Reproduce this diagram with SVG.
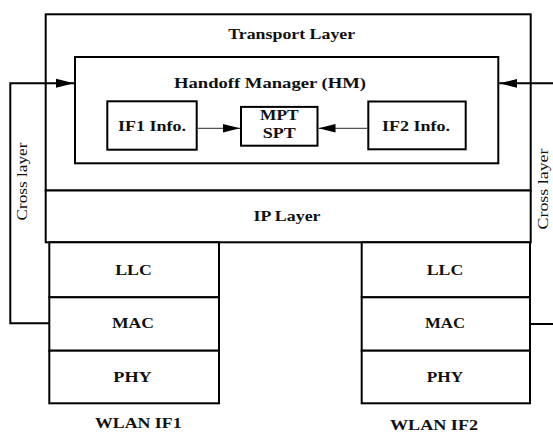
<svg xmlns="http://www.w3.org/2000/svg" width="553" height="432" viewBox="0 0 553 432">
<style>
.box{fill:#fff;stroke:#000;stroke-width:2}
.t{font-family:"Liberation Serif","Times New Roman",serif;font-weight:bold;font-size:15px;fill:#111;text-anchor:middle}
.r{font-family:"Liberation Serif","Times New Roman",serif;font-size:15px;fill:#111;text-anchor:middle}
.thick{fill:none;stroke:#000;stroke-width:2}
.thin{fill:none;stroke:#555;stroke-width:1.2}
</style>
<defs>
<marker id="ah" markerUnits="userSpaceOnUse" markerWidth="20" markerHeight="12" refX="18" refY="5" orient="auto">
<path d="M0,0.5 L18,5 L0,9.5 Z" fill="#000"/>
</marker>
<marker id="ahs" markerUnits="userSpaceOnUse" markerWidth="20" markerHeight="12" refX="17" refY="5" orient="auto">
<path d="M0,0.8 L17,5 L0,9.2 Z" fill="#000"/>
</marker>
</defs>
<rect width="553" height="432" fill="#fff"/>
<g id="transport">
<rect class="box" x="45.7" y="14.3" width="485" height="176.2"/>
<text class="t" x="291.7" y="38.5" textLength="127" lengthAdjust="spacingAndGlyphs">Transport Layer</text>
</g>
<g id="ip">
<rect class="box" x="45.7" y="190.5" width="485" height="51.8"/>
<text class="t" x="287" y="221" textLength="67" lengthAdjust="spacingAndGlyphs">IP Layer</text>
</g>
<g id="hm">
<rect class="box" x="75" y="57" width="423.3" height="106.3"/>
<text class="t" x="270" y="88.3" textLength="192" lengthAdjust="spacingAndGlyphs">Handoff Manager (HM)</text>
</g>
<g id="if1info">
<rect class="box" x="107.3" y="101.3" width="89.4" height="48.4"/>
<text class="t" x="152" y="130.5" textLength="68" lengthAdjust="spacingAndGlyphs">IF1 Info.</text>
</g>
<g id="mpt">
<rect class="box" x="241" y="106.9" width="76.5" height="38.8"/>
<text class="t" x="279.3" y="120" textLength="38.5" lengthAdjust="spacingAndGlyphs">MPT</text>
<text class="t" x="279.3" y="138.3" textLength="33" lengthAdjust="spacingAndGlyphs">SPT</text>
</g>
<g id="if2info">
<rect class="box" x="368.3" y="101.5" width="97.4" height="47.8"/>
<text class="t" x="416" y="130.5" textLength="68" lengthAdjust="spacingAndGlyphs">IF2 Info.</text>
</g>
<g id="llc1">
<rect class="box" x="49.3" y="242.3" width="169.7" height="55"/>
<text class="t" x="133.5" y="275" textLength="36.5" lengthAdjust="spacingAndGlyphs">LLC</text>
</g>
<g id="mac1">
<rect class="box" x="49.3" y="297.3" width="169.7" height="53.4"/>
<text class="t" x="133" y="328.3" textLength="42" lengthAdjust="spacingAndGlyphs">MAC</text>
</g>
<g id="phy1">
<rect class="box" x="49.3" y="350.7" width="169.7" height="52.6"/>
<text class="t" x="132.5" y="381.7" textLength="38.5" lengthAdjust="spacingAndGlyphs">PHY</text>
</g>
<g id="llc2">
<rect class="box" x="361.7" y="242.3" width="168.3" height="55"/>
<text class="t" x="445" y="275" textLength="36.5" lengthAdjust="spacingAndGlyphs">LLC</text>
</g>
<g id="mac2">
<rect class="box" x="361.7" y="297.3" width="168.3" height="53.4"/>
<text class="t" x="445" y="328.3" textLength="40" lengthAdjust="spacingAndGlyphs">MAC</text>
</g>
<g id="phy2">
<rect class="box" x="361.7" y="350.7" width="168.3" height="52.6"/>
<text class="t" x="445" y="382" textLength="36.5" lengthAdjust="spacingAndGlyphs">PHY</text>
</g>
<g id="labels">
<text class="t" x="138.3" y="428" textLength="86.5" lengthAdjust="spacingAndGlyphs">WLAN IF1</text>
<text class="t" x="434" y="429.5" textLength="88" lengthAdjust="spacingAndGlyphs">WLAN IF2</text>
<text class="r" transform="translate(27,181.5) rotate(-90)" textLength="78" lengthAdjust="spacingAndGlyphs">Cross layer</text>
<text class="r" transform="translate(548,189) rotate(-90)" textLength="81" lengthAdjust="spacingAndGlyphs">Cross layer</text>
</g>
<g id="connectors">
<polyline class="thick" points="49.3,323.3 10.3,323.3 10.3,83.3 74,83.3" marker-end="url(#ah)"/>
<polyline class="thick" points="530,324 558,324 558,83.3 499.3,83.3" marker-end="url(#ah)"/>
<line class="thin" x1="197.7" y1="128.3" x2="240" y2="128.3" marker-end="url(#ahs)"/>
<line class="thin" x1="367.3" y1="128.3" x2="318.5" y2="128.3" marker-end="url(#ahs)"/>
</g>
</svg>
